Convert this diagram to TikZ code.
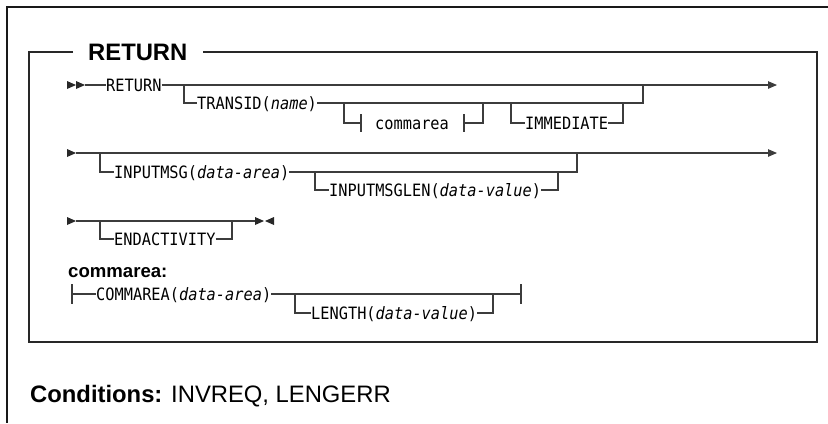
\documentclass[tikz,border=0pt]{standalone}
\usepackage{fontspec}
\setmainfont{Liberation Sans}
\newfontfamily\monof[FakeStretch=0.9]{DejaVu Sans Mono}
\usetikzlibrary{arrows.meta}
\definecolor{lc}{RGB}{60,60,60}
\definecolor{fc}{RGB}{40,40,40}
\begin{document}
\begin{tikzpicture}[x=1bp,y=-1bp,
  kw/.style={font=\monof\fontsize{17bp}{19bp}\selectfont, inner ysep=0pt, inner xsep=0pt,
             text height=12.4bp, text depth=0pt, anchor=west},
  rr/.style={line width=1.1bp, draw=lc},
  tip/.style={-{Triangle[length=9bp,width=7.5bp]}},
  tri/.style={fill=fc},
  frameline/.style={line width=1.6bp, draw=fc},
  outerline/.style={line width=2bp, draw=black!90}]
\useasboundingbox (0,0) rectangle (828,423);

% outer frame (top and left)
\coordinate (otr) at (828,7);
\coordinate (otl) at (7,7);
\coordinate (obl) at (7,423);
\draw[outerline] (otr) -- (otl) -- (obl);

% inner box with title
\node[font=\bfseries\fontsize{23.8bp}{26bp}\selectfont, anchor=west, inner ysep=0pt, inner xsep=15bp] (title) at (73,52) {RETURN};
\coordinate (itl) at (29,52);
\coordinate (itr) at (817,52);
\coordinate (ibl) at (29,342);
\coordinate (ibr) at (817,342);
\draw[frameline] (title.west) -- (itl) -- (ibl) -- (ibr) -- (itr) -- (title.east);

% ---------- row 1 ----------
\node[kw] (ret) at (106,85) {RETURN};
\node[kw] (transid) at (197,103) {TRANSID(\textit{name})};
\node[kw] (carea) at (375,123) {commarea};
\node[kw] (immed) at (525,123) {IMMEDIATE};
\coordinate (s1) at (85,85);
\coordinate (e1) at (777,85);
\coordinate (j1a) at (184,85);
\coordinate (j1b) at (643,85);
\coordinate (c1a) at (344,103);
\coordinate (c1b) at (483,103);
\coordinate (i1a) at (511,103);
\coordinate (i1b) at (623,103);
\coordinate (bar1) at (361,123);
\coordinate (bar1t) at (361,114);
\coordinate (bar1b) at (361,132);
\coordinate (bar2) at (464,123);
\coordinate (bar2t) at (464,114);
\coordinate (bar2b) at (464,132);
\fill[tri] (67,81) -- (76,85) -- (67,89) -- cycle;
\fill[tri] (76,81) -- (85,85) -- (76,89) -- cycle;
\draw[rr] (s1) -- (ret.west);
\draw[rr,tip] (ret.east) -- (e1);
\draw[rr] (j1a) |- (transid.west);
\draw[rr] (transid.east) -| (j1b);
\draw[rr] (c1a) |- (bar1);
\draw[rr] (bar1t) -- (bar1b);
\draw[rr] (bar2t) -- (bar2b);
\draw[rr] (bar2) -| (c1b);
\draw[rr] (i1a) |- (immed.west);
\draw[rr] (immed.east) -| (i1b);

% ---------- row 2 ----------
\node[kw] (inmsg) at (114,172) {INPUTMSG(\textit{data-area})};
\node[kw] (inlen) at (329,190) {INPUTMSGLEN(\textit{data-value})};
\coordinate (s2) at (76,153);
\coordinate (e2) at (777,153);
\coordinate (j2a) at (100,153);
\coordinate (j2b) at (577,153);
\coordinate (k2a) at (315,172);
\coordinate (k2b) at (558,172);
\fill[tri] (67,149) -- (76,153) -- (67,157) -- cycle;
\draw[rr,tip] (s2) -- (e2);
\draw[rr] (j2a) |- (inmsg.west);
\draw[rr] (inmsg.east) -| (j2b);
\draw[rr] (k2a) |- (inlen.west);
\draw[rr] (inlen.east) -| (k2b);

% ---------- row 3 ----------
\node[kw] (endact) at (114,239) {ENDACTIVITY};
\coordinate (s3) at (76,221);
\coordinate (e3) at (255,221);
\coordinate (j3a) at (100,221);
\coordinate (j3b) at (232,221);
\fill[tri] (67,217) -- (76,221) -- (67,225) -- cycle;
\fill[tri] (255,217) -- (264,221) -- (255,225) -- cycle;
\fill[tri] (274,217) -- (265,221) -- (274,225) -- cycle;
\draw[rr] (s3) -- (e3);
\draw[rr] (j3a) |- (endact.west);
\draw[rr] (endact.east) -| (j3b);

% ---------- commarea fragment ----------
\node[font=\bfseries\fontsize{18.6bp}{20bp}\selectfont, anchor=base west, inner sep=0pt] (clabel) at (68,277) {commarea:};
\node[kw] (comm) at (96,294) {COMMAREA(\textit{data-area})};
\node[kw] (length) at (311,313) {LENGTH(\textit{data-value})};
\coordinate (cb) at (72,294);
\coordinate (cbt) at (72,284);
\coordinate (cbb) at (72,304);
\coordinate (ce) at (521,294);
\coordinate (cet) at (521,284);
\coordinate (ceb) at (521,304);
\coordinate (l1a) at (295,294);
\coordinate (l1b) at (493,294);
\draw[rr] (cbt) -- (cbb);
\draw[rr] (cb) -- (comm.west);
\draw[rr] (comm.east) -- (ce);
\draw[rr] (cet) -- (ceb);
\draw[rr] (l1a) |- (length.west);
\draw[rr] (length.east) -| (l1b);

% ---------- conditions ----------
\node[font=\fontsize{23.8bp}{26bp}\selectfont, anchor=base west, inner sep=0pt] (cond) at (30,402) {\textbf{Conditions:} INVREQ, LENGERR};
\end{tikzpicture}
\end{document}
